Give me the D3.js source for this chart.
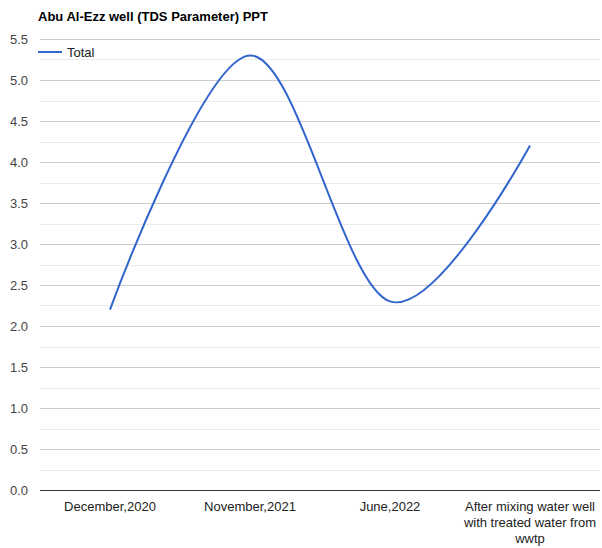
<!DOCTYPE html>
<html>
<head>
<meta charset="utf-8">
<script src="https://cdn.jsdelivr.net/npm/d3@7"></script>
<style>
  body { margin: 0; background: #fff; }
  svg { font-family: "Liberation Sans", Arial, sans-serif; }
</style>
</head>
<body>
<div id="chart"></div>
<script>
var categories = ["December,2020", "November,2021", "June,2022", "After mixing water well with treated water from wwtp"];
var totals = [2.2, 5.3, 2.3, 4.2];
var yTicks = [0, 0.5, 1, 1.5, 2, 2.5, 3, 3.5, 4, 4.5, 5, 5.5];
var labelLines = [["December,2020"], ["November,2021"], ["June,2022"], ["After mixing water well", "with treated water from", "wwtp"]];

var width = 602;
var height = 548;
var margin = { top: 39, right: 2, bottom: 58, left: 40 };

var svg = d3.select("#chart")
  .append("svg")
  .attr("width", width)
  .attr("height", height);

var x = d3.scaleBand()
  .domain(categories)
  .range([margin.left, width - margin.right]);

var y = d3.scaleLinear()
  .domain([0, 5.5])
  .range([height - margin.bottom, margin.top]);

// minor grid
var minor = d3.range(0.25, 5.5, 0.5);
svg.append("g").selectAll("line")
  .data(minor)
  .enter().append("line")
  .attr("x1", margin.left).attr("x2", width - margin.right)
  .attr("y1", function(d) { return Math.round(y(d)) + 0.5; })
  .attr("y2", function(d) { return Math.round(y(d)) + 0.5; })
  .attr("stroke", "#ebebeb");

// major grid
svg.append("g").selectAll("line")
  .data(yTicks.slice(1))
  .enter().append("line")
  .attr("x1", margin.left).attr("x2", width - margin.right)
  .attr("y1", function(d) { return Math.round(y(d)) + 0.5; })
  .attr("y2", function(d) { return Math.round(y(d)) + 0.5; })
  .attr("stroke", "#cccccc");

// baseline
svg.append("line")
  .attr("x1", margin.left).attr("x2", width - margin.right)
  .attr("y1", Math.round(y(0)) + 0.5).attr("y2", Math.round(y(0)) + 0.5)
  .attr("stroke", "#333333");

// y labels
svg.append("g").selectAll("text")
  .data(yTicks)
  .enter().append("text")
  .attr("x", 28)
  .attr("y", function(d) { return y(d); })
  .attr("dy", "0.35em")
  .attr("text-anchor", "end")
  .attr("font-size", 13)
  .attr("fill", "#444")
  .text(function(d) { return d3.format(".1f")(d); });

// x labels
var xl = svg.append("g").selectAll("text")
  .data(categories)
  .enter().append("text")
  .attr("x", function(d) { return x(d) + x.bandwidth() / 2; })
  .attr("y", 511)
  .attr("text-anchor", "middle")
  .attr("font-size", 13)
  .attr("fill", "#222");
xl.each(function(d, i) {
  var t = d3.select(this);
  labelLines[i].forEach(function(s, j) {
    t.append("tspan")
      .attr("x", x(d) + x.bandwidth() / 2)
      .attr("dy", j === 0 ? 0 : 16)
      .text(s);
  });
});

// line
var line = d3.line()
  .x(function(d, i) { return x(categories[i]) + x.bandwidth() / 2; })
  .y(function(d) { return y(d); })
  .curve(d3.curveCardinal.tension(0));

svg.append("path")
  .datum(totals)
  .attr("d", line)
  .attr("fill", "none")
  .attr("stroke", "#3366cc")
  .attr("stroke-width", 2);

// title
svg.append("text")
  .attr("x", 38)
  .attr("y", 21)
  .attr("font-size", 13)
  .attr("font-weight", "bold")
  .attr("fill", "#000")
  .text("Abu Al-Ezz well (TDS Parameter) PPT");

// legend
svg.append("line")
  .attr("x1", 38).attr("x2", 62)
  .attr("y1", 52).attr("y2", 52)
  .attr("stroke", "#3366cc")
  .attr("stroke-width", 2);
svg.append("text")
  .attr("x", 67)
  .attr("y", 52)
  .attr("dy", "0.35em")
  .attr("font-size", 13)
  .attr("fill", "#222")
  .text("Total");
</script>
</body>
</html>
